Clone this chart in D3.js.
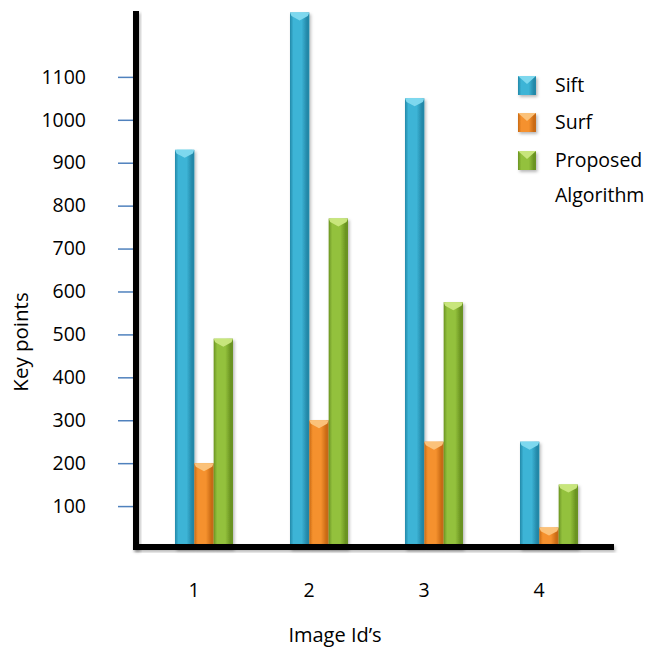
<!DOCTYPE html>
<html>
<head>
<meta charset="utf-8">
<script src="https://cdn.jsdelivr.net/npm/d3@7"></script>
<style>
  html, body { margin: 0; padding: 0; background: #fff; }
  svg { display: block; font-family: "Open Sans", "Noto Sans", sans-serif; }
</style>
</head>
<body>
<svg id="chart" width="649" height="650"></svg>
<script>
// Key points detected per image, by method
const imageIds = ["1", "2", "3", "4"];
const seriesNames = ["Sift", "Surf", "Proposed"];
const legendLabels = [["Sift"], ["Surf"], ["Proposed", "Algorithm"]];
const siftValues = [930, 1250, 1050, 250];
const surfValues = [200, 300, 250, 50];
const proposedValues = [490, 770, 575, 150];
const yTicks = [100, 200, 300, 400, 500, 600, 700, 800, 900, 1000, 1100];

const palette = {
  Sift:     { base: "#3cb4d6", dark: "#2488a8", light: "#7ed8ee" },
  Surf:     { base: "#f5912e", dark: "#c96a14", light: "#fbc27a" },
  Proposed: { base: "#93c13c", dark: "#6a9322", light: "#c8e57c" }
};

const values = { Sift: siftValues, Surf: surfValues, Proposed: proposedValues };
const rows = imageIds.map((id, i) => ({
  id,
  items: seriesNames.map(s => ({ series: s, value: values[s][i] }))
}));

const svg = d3.select("#chart");
const defs = svg.append("defs");

// Horizontal shading gives each bar a rounded, beveled look
seriesNames.forEach(s => {
  const c = palette[s];
  const g = defs.append("linearGradient").attr("id", "grad-" + s)
    .attr("x1", "0%").attr("x2", "100%").attr("y1", "0%").attr("y2", "0%");
  g.append("stop").attr("offset", "0%").attr("stop-color", c.dark);
  g.append("stop").attr("offset", "18%").attr("stop-color", c.base);
  g.append("stop").attr("offset", "60%").attr("stop-color", c.base);
  g.append("stop").attr("offset", "88%").attr("stop-color", c.dark);
  g.append("stop").attr("offset", "100%").attr("stop-color", c.dark);
});

const shadow = defs.append("filter").attr("id", "soft")
  .attr("x", "-20%").attr("y", "-20%").attr("width", "160%").attr("height", "160%");
shadow.append("feDropShadow").attr("dx", 1.5).attr("dy", 2).attr("stdDeviation", 1.6)
  .attr("flood-color", "#000").attr("flood-opacity", 0.28);

const x0 = d3.scaleBand().domain(imageIds).range([146.5, 606.5]).padding(0);
const groupWidth = 58;
const x1 = d3.scaleBand().domain(seriesNames).range([0, groupWidth]).padding(0);
const y = d3.scaleLinear().domain([0, 1250]).range([549, 12.5]);

// Bars
const groups = svg.append("g").selectAll("g").data(rows).join("g")
  .attr("transform", d => `translate(${x0(d.id) + (x0.bandwidth() - groupWidth) / 2},0)`);

const bar = groups.selectAll("g.bar").data(d => d.items).join("g").attr("class", "bar")
  .attr("filter", "url(#soft)");

bar.append("rect")
  .attr("x", d => x1(d.series))
  .attr("y", d => y(d.value))
  .attr("width", x1.bandwidth())
  .attr("height", d => y(0) - y(d.value))
  .attr("fill", d => `url(#grad-${d.series})`);

// Beveled cap: lighter chevron on the top face
const capH = 8;
bar.append("path")
  .attr("d", d => {
    const xl = x1(d.series), w = x1.bandwidth(), yt = y(d.value);
    return `M${xl},${yt}L${xl + w},${yt}L${xl + w - 1.5},${yt + capH * 0.45}L${xl + w / 2},${yt + capH}L${xl + 1.5},${yt + capH * 0.45}Z`;
  })
  .attr("fill", d => palette[d.series].light);
bar.append("path")
  .attr("d", d => {
    const xl = x1(d.series), w = x1.bandwidth(), yt = y(d.value);
    return `M${xl + 2},${yt}L${xl + w - 2},${yt}L${xl + w / 2},${yt + capH - 1}Z`;
  })
  .attr("fill", d => palette[d.series].light)
  .attr("opacity", 0.9);

// Y axis: blue tick marks with labels, heavy black spine
const yAxis = d3.axisLeft(y).tickValues(yTicks).tickFormat(d3.format("d"))
  .tickSize(15).tickPadding(32);
const yg = svg.append("g").attr("transform", "translate(133,0)").call(yAxis);
yg.select(".domain").remove();
yg.selectAll(".tick line").attr("stroke", "#4f81bd").attr("stroke-width", 1.5);
yg.selectAll(".tick text")
  .attr("fill", "#000").attr("font-size", 19.5)
  .attr("font-family", "'Open Sans', sans-serif");

svg.append("rect").attr("x", 133).attr("y", 11)
  .attr("width", 6).attr("height", 539)
  .attr("fill", "#000").attr("filter", "url(#soft)");

// X axis: heavy baseline with image ids below
svg.append("rect").attr("x", 133).attr("y", y(0) - 5)
  .attr("width", 481).attr("height", 6)
  .attr("fill", "#000").attr("filter", "url(#soft)");

const xAxis = d3.axisBottom(x0).tickSize(0).tickPadding(0);
const xg = svg.append("g").attr("transform", "translate(-10,597)").call(xAxis);
xg.select(".domain").remove();
xg.selectAll(".tick text")
  .attr("fill", "#000").attr("font-size", 19.5).attr("dy", 0)
  .attr("font-family", "'Open Sans', sans-serif");

// Axis titles
svg.append("text").attr("x", 335).attr("y", 642).attr("text-anchor", "middle")
  .attr("font-size", 20).attr("fill", "#000").text("Image Id’s");
svg.append("text").attr("transform", "translate(28,342) rotate(-90)")
  .attr("text-anchor", "middle").attr("font-size", 20.5).attr("fill", "#000").text("Key points");

// Legend
const legendTop = [76, 113, 151];
const lg = svg.append("g").selectAll("g").data(seriesNames).join("g")
  .attr("transform", (d, i) => `translate(518,${legendTop[i]})`);
lg.append("rect").attr("width", 18).attr("height", 19)
  .attr("fill", d => `url(#grad-${d})`).attr("filter", "url(#soft)");
lg.append("path").attr("d", "M0,0L18,0L9,8Z").attr("fill", d => palette[d].light);
lg.each(function(d, i) {
  const t = d3.select(this).append("text").attr("x", 37).attr("y", 16)
    .attr("font-size", 19.5).attr("fill", "#000");
  legendLabels[i].forEach((line, j) => {
    t.append("tspan").attr("x", 37).attr("dy", j === 0 ? 0 : 35).text(line);
  });
});
</script>
</body>
</html>
